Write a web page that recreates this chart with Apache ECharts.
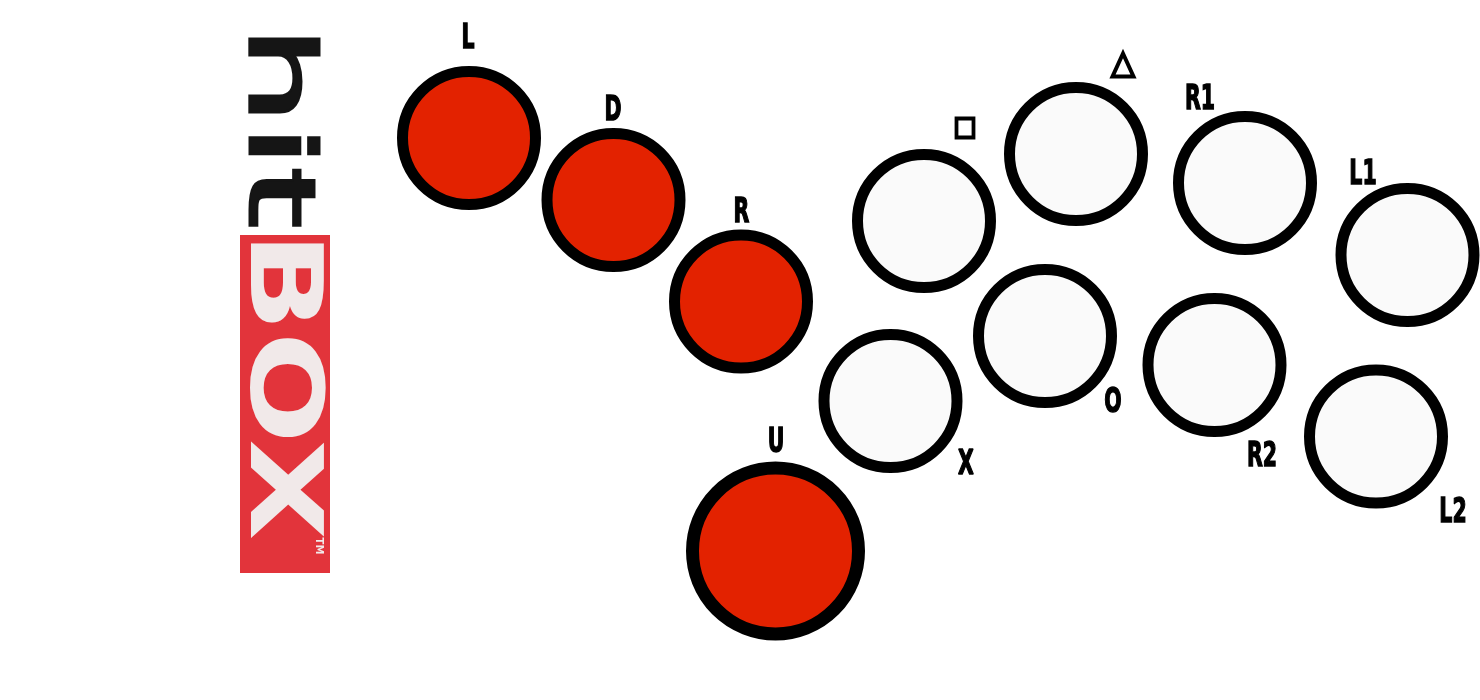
<!DOCTYPE html>
<html>
<head>
<meta charset="utf-8">
<title>Hit Box layout</title>
<script src="https://cdn.jsdelivr.net/npm/echarts@6/dist/echarts.min.js"></script>
<style>
  html, body { margin: 0; padding: 0; background: #fff; }
  #chartContainer { width: 1480px; height: 700px; }
</style>
</head>
<body>
<div id="chartContainer"></div>
<script>
// button centres, in layout units (x to the right, y downward)
const redButtons = ['L', 'D', 'R', 'U'];
const redX = [469, 613.5, 741, 775.5];
const redY = [138, 200, 301.5, 551];

const whiteButtons = ['Square', 'Triangle', 'R1', 'L1', 'X', 'O', 'R2', 'L2'];
const whiteX = [924, 1076, 1245, 1407.5, 890.5, 1045, 1214.5, 1376];
const whiteY = [221, 154, 183, 255, 401, 336, 365, 436.5];

// button captions
const labelText = ['L', 'D', 'R', 'U', 'X', 'O', 'R1', 'L1', 'R2', 'L2'];
const labelX = [468, 613, 741.5, 776, 966, 1113, 1200, 1363, 1262, 1453];
const labelY = [36, 108, 210, 440, 462, 400, 97, 172, 454, 510];

// face button glyph marks
const markNames = ['square', 'triangle'];
const markX = [965, 1123];
const markY = [128, 65];

let chart = null;

document.addEventListener('DOMContentLoaded', function() {
    chart = echarts.init(document.getElementById('chartContainer'));
    drawLayout();
});

// vertical logo lettering, reading top to bottom
function logoText(text, x, y, sx, font, fill, strokeW) {
    return {
        type: 'text', x: x, y: y, rotation: -Math.PI / 2, scaleX: sx,
        style: {
            text: text, fill: fill, font: font,
            stroke: strokeW ? fill : null, lineWidth: strokeW || 0,
            align: 'center', verticalAlign: 'middle', textAlign: 'center', textVerticalAlign: 'middle'
        }
    };
}

function drawLayout() {
    const redData = redButtons.map((n, i) => ({
        name: n,
        value: [redX[i], redY[i]],
        symbolSize: n === 'U' ? 166 : 133,
        itemStyle: { borderWidth: n === 'U' ? 13 : 11 }
    }));
    const whiteData = whiteButtons.map((n, i) => ({ name: n, value: [whiteX[i], whiteY[i]] }));
    const labelData = labelText.map((t, i) => [labelX[i], labelY[i], t]);
    const markData = markNames.map((n, i) => ({
        name: n,
        value: [markX[i], markY[i]],
        symbol: n === 'square' ? 'rect' : 'triangle',
        symbolSize: n === 'square' ? [17, 19] : [21, 23]
    }));

    const option = {
        animation: false,
        backgroundColor: '#ffffff',
        grid: { left: 0, right: 0, top: 0, bottom: 0 },
        xAxis: { type: 'value', min: 0, max: 1480, show: false },
        yAxis: { type: 'value', min: 0, max: 700, inverse: true, show: false },
        graphic: [
            { type: 'rect', shape: { x: 240, y: 235, width: 90, height: 338 }, style: { fill: '#e2343b' } },
            logoText('hit', 273, 127, 1.72, '90px "DejaVu Sans"', '#151515', 3),
            logoText('BOX', 277, 386, 1.33, 'bold 99px "DejaVu Sans"', '#f1e9e9', 0),
            logoText('TM', 319, 546, 1, 'bold 10px "DejaVu Sans"', '#f1e9e9', 0)
        ],
        series: [
            {
                type: 'scatter',
                name: 'directions',
                data: redData,
                symbol: 'circle',
                itemStyle: { color: '#e32200', borderColor: '#000000', opacity: 1 },
                silent: true,
                z: 2
            },
            {
                type: 'scatter',
                name: 'attacks',
                data: whiteData,
                symbol: 'circle',
                symbolSize: 133,
                itemStyle: { color: '#fafafa', borderColor: '#000000', borderWidth: 11, opacity: 1 },
                silent: true,
                z: 2
            },
            {
                type: 'scatter',
                name: 'marks',
                data: markData,
                itemStyle: { color: 'rgba(0,0,0,0)', borderColor: '#000000', borderWidth: 4, opacity: 1 },
                silent: true,
                z: 3
            },
            {
                type: 'custom',
                name: 'captions',
                data: labelData,
                silent: true,
                z: 3,
                renderItem: function(params, api) {
                    const p = api.coord([api.value(0), api.value(1)]);
                    return {
                        type: 'text',
                        x: p[0],
                        y: p[1] + 3,
                        scaleX: 0.62,
                        style: {
                            text: labelText[params.dataIndex],
                            fill: '#000000',
                            stroke: '#000000',
                            lineWidth: 1.5,
                            font: 'bold 33px "DejaVu Sans"',
                            align: 'center', verticalAlign: 'middle',
                            textAlign: 'center', textVerticalAlign: 'middle'
                        }
                    };
                }
            }
        ]
    };

    chart.setOption(option, true);
}
</script>
</body>
</html>
